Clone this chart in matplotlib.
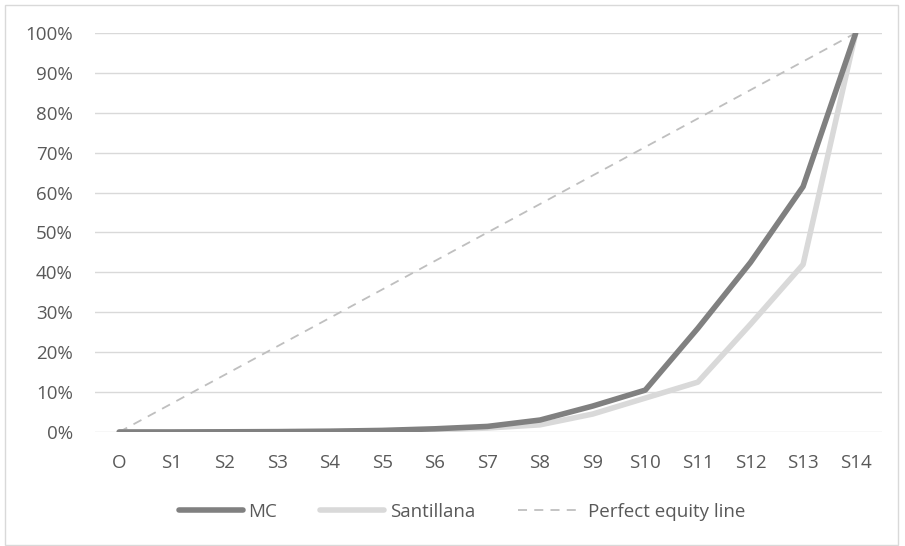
import matplotlib

matplotlib.use("Agg")
import matplotlib.pyplot as plt  # noqa: E402
from matplotlib.patches import Rectangle  # noqa: E402
from matplotlib.ticker import FuncFormatter, MultipleLocator  # noqa: E402

categories = ["O", "S1", "S2", "S3", "S4", "S5", "S6", "S7", "S8", "S9",
              "S10", "S11", "S12", "S13", "S14"]
mc = [0.0, 0.0, 0.0005, 0.001, 0.002, 0.004, 0.008, 0.014, 0.030, 0.065,
      0.105, 0.26, 0.425, 0.615, 1.0]
santillana = [0.0, 0.0, 0.0, 0.0005, 0.001, 0.002, 0.005, 0.010, 0.018, 0.045,
              0.085, 0.125, 0.27, 0.42, 1.0]
equity = [i / 14 for i in range(15)]

plt.rcParams["font.family"] = ["Open Sans", "DejaVu Sans"]
TEXT = "#595959"
FS = 13.5

fig = plt.figure(figsize=(9.05, 5.46), dpi=100)
ax = fig.add_axes([95 / 905, 1 - 432 / 546, (882 - 95) / 905, (432 - 33) / 546])

x = range(len(categories))
ax.plot(x, mc, color="#808080", lw=4, solid_capstyle="round", label="MC", zorder=3)
ax.plot(x, santillana, color="#d9d9d9", lw=4, solid_capstyle="round",
        label="Santillana", zorder=2)
ax.plot(x, equity, color="#bfbfbf", lw=1.3, ls=(0, (5, 4)),
        label="Perfect equity line", zorder=1)

ax.set_xlim(-0.46, 14.5)
ax.set_ylim(0, 1)
ax.yaxis.set_major_locator(MultipleLocator(0.1))
ax.yaxis.set_major_formatter(FuncFormatter(lambda v, _: f"{v:.0%}"))
ax.set_xticks(list(x))
ax.set_xticklabels(categories)
ax.grid(axis="y", color="#d9d9d9", lw=1)
ax.set_axisbelow(True)
for s in ax.spines.values():
    s.set_visible(False)
ax.tick_params(length=0, labelsize=FS, colors=TEXT)
ax.tick_params(axis="x", pad=16)
ax.tick_params(axis="y", pad=16)

fig.legend(loc="center", bbox_to_anchor=(462 / 905, 1 - 512 / 546), ncol=3,
           frameon=False, fontsize=FS, labelcolor=TEXT, handlelength=3.4,
           columnspacing=2.3, handletextpad=0.3)

fig.add_artist(Rectangle((5 / 905, 1 / 546), 893 / 905, 540 / 546,
                         transform=fig.transFigure, fill=False,
                         edgecolor="#d9d9d9", lw=1))

fig.savefig("out.png", dpi=100)
plt.close(fig)
